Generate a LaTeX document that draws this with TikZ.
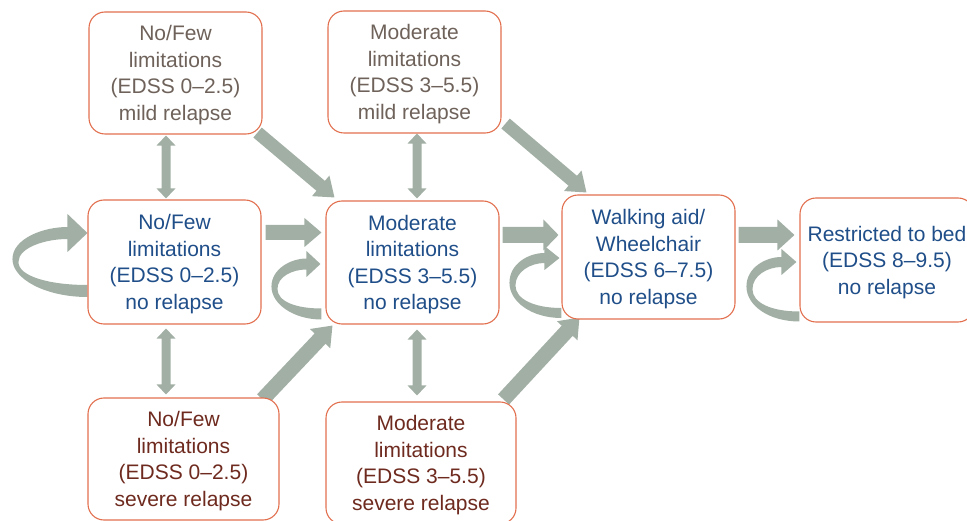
\documentclass[tikz,border=0pt]{standalone}
\usepackage{fontspec}
\setmainfont{Liberation Sans}
\usetikzlibrary{calc,backgrounds}
\definecolor{boxcol}{HTML}{E2704F}
\definecolor{topcol}{HTML}{6E625A}
\definecolor{midcol}{HTML}{1F4E89}
\definecolor{botcol}{HTML}{6E2A1E}
\definecolor{arrowcol}{HTML}{A2AFA5}
\newcommand\fatarrow[5]{%
  \coordinate (fah) at ($(#2)!#5!(#1)$);
  \fill[arrowfill] ($(#1)!#3!90:(#2)$) -- ($(fah)!#3!90:(#2)$) -- ($(fah)!#4!90:(#2)$) -- (#2)
    -- ($(fah)!#4!-90:(#2)$) -- ($(fah)!#3!-90:(#2)$) -- ($(#1)!#3!-90:(#2)$) -- cycle;}
\newcommand\dblarrow[5]{%
  \coordinate (dah) at ($(#2)!#5!(#1)$);
  \coordinate (dat) at ($(#1)!#5!(#2)$);
  \fill[arrowfill] (#1) -- ($(dat)!#4!90:(#2)$) -- ($(dat)!#3!90:(#2)$) -- ($(dah)!#3!90:(#2)$)
    -- ($(dah)!#4!90:(#2)$) -- (#2) -- ($(dah)!#4!-90:(#2)$) -- ($(dah)!#3!-90:(#2)$)
    -- ($(dat)!#3!-90:(#2)$) -- ($(dat)!#4!-90:(#2)$) -- cycle;}
% #1 tip position, #2 L, #3 hl, #4 hw, #5 t, #6 yb, #7 xe
\newcommand\selfloop[7]{%
  \fill[arrowfill, shift={#1}] (0,0) -- (-#3,-#4) -- ({-#3},{-#5/2})
    .. controls ({-#3-0.45*(#2-#3)},{-#5/2}) and ({-#2},{0.1*#6}) .. ({-#2},{0.45*#6})
    .. controls ({-#2},{0.8*#6}) and ({-0.55*#2},{#6+#5/2}) .. ({#7},{#6+#5/2})
    -- ({#7},{#6-#5/2})
    .. controls ({-0.5*#2},{#6-#5/2}) and ({-#2+6},{0.75*#6}) .. ({-#2+6},{0.5*#6})
    .. controls ({-#2+6},{0.25*#6}) and ({-#3-0.4*(#2-#3)},{#5/2}) .. ({-#3},{#5/2})
    -- (-#3,#4) -- cycle;}
\begin{document}
\begin{tikzpicture}[x=1pt,y=-1pt,
  arrowfill/.style={fill=arrowcol},
  box/.style={draw=boxcol, line width=1.1pt, rounded corners=16pt, fill=white,
    align=center, inner sep=0pt, text depth=0pt, font=\fontsize{21}{26.5}\selectfont},
  toprow/.style={box, text=topcol},
  midrow/.style={box, text=midcol},
  botrow/.style={box, text=botcol}]
\useasboundingbox (0,0) rectangle (967,521);
% nodes
\node[toprow, minimum width=173pt, minimum height=122pt] (n1) at (175.5,73) {No/Few\\limitations\\(EDSS 0--2.5)\\mild relapse};
\node[toprow, minimum width=173pt, minimum height=122pt] (n2) at (414.5,72) {Moderate\\limitations\\(EDSS 3--5.5)\\mild relapse};
\node[midrow, minimum width=173pt, minimum height=124pt] (n3) at (174.5,262) {No/Few\\limitations\\(EDSS 0--2.5)\\no relapse};
\node[midrow, minimum width=173pt, minimum height=123pt] (n4) at (412.5,262.5) {Moderate\\limitations\\(EDSS 3--5.5)\\no relapse};
\node[midrow, minimum width=173pt, minimum height=124pt] (n5) at (648.5,257) {Walking aid/\\Wheelchair\\(EDSS 6--7.5)\\no relapse};
\node[midrow, minimum width=174pt, minimum height=124pt] (n6) at (887,260) {Restricted to bed\\(EDSS 8--9.5)\\no relapse};
\node[botrow, minimum width=191pt, minimum height=122pt] (n7) at (183.5,459) {No/Few\\limitations\\(EDSS 0--2.5)\\severe relapse};
\node[botrow, minimum width=190pt, minimum height=122pt] (n8) at (421,463) {Moderate\\limitations\\(EDSS 3--5.5)\\severe relapse};
% connector end points
\coordinate (a34) at ($(n3.east)+(4,-29.5)$);
\coordinate (b34) at ($(n4.west)+(-4,-30)$);
\coordinate (a45) at ($(n4.east)+(3,-27.5)$);
\coordinate (b45) at ($(n5.west)+(-3,-22)$);
\coordinate (a56) at ($(n5.east)+(3,-22)$);
\coordinate (b56) at ($(n6.west)+(-5,-25)$);
\coordinate (a14) at ($(n1.south east)+(-5,-2)$);
\coordinate (b14) at ($(n4.north west)+(9,-3)$);
\coordinate (a25) at ($(n2.south east)+(4,-10)$);
\coordinate (b25) at ($(n5.north west)+(25,-2)$);
\coordinate (a74) at ($(n7.north east)+(-17,2)$);
\coordinate (b74) at ($(n4.south west)+(7,1)$);
\coordinate (a85) at ($(n8.north east)+(-13,-2)$);
\coordinate (b85) at ($(n5.south west)+(18,-2)$);
\coordinate (a13) at ($(n1.south)+(-9.5,1)$);
\coordinate (b13) at ($(n3.north)+(-8.5,-1)$);
\coordinate (a24) at ($(n2.south)+(2.5,0)$);
\coordinate (b24) at ($(n4.north)+(4.5,-2)$);
\coordinate (a37) at ($(n3.south)+(-8.5,4)$);
\coordinate (b37) at ($(n7.north)+(-17.5,-3)$);
\coordinate (a48) at ($(n4.south)+(4.5,5)$);
\coordinate (b48) at ($(n8.north)+(-4,-6)$);
\begin{scope}[on background layer]
\fatarrow{a34}{b34}{7.5pt}{14.5pt}{17pt}
\fatarrow{a45}{b45}{8pt}{15.5pt}{15pt}
\fatarrow{a56}{b56}{8pt}{15.5pt}{17pt}
\fatarrow{a14}{b14}{6.5pt}{13.5pt}{18pt}
\fatarrow{a25}{b25}{6.5pt}{13.5pt}{18pt}
\fatarrow{a74}{b74}{7.5pt}{14pt}{18pt}
\fatarrow{a85}{b85}{7.5pt}{14pt}{18pt}
\dblarrow{a13}{b13}{4.5pt}{9.5pt}{10pt}
\dblarrow{a24}{b24}{4.5pt}{9.5pt}{10pt}
\dblarrow{a37}{b37}{4.5pt}{9.5pt}{10pt}
\dblarrow{a48}{b48}{4.5pt}{9.5pt}{10pt}
\selfloop{($(n3.west)+(0,-29)$)}{75}{20}{19}{12}{58}{0}
\selfloop{($(n4.west)+(-5,1.5)$)}{49}{14}{13}{11}{50}{1}
\selfloop{($(n5.west)+(-2,1)$)}{50}{15}{12}{10}{55}{2}
\selfloop{($(n6.west)+(-3,2)$)}{50}{15}{13}{10}{54.5}{3}
\end{scope}
\end{tikzpicture}
\end{document}
